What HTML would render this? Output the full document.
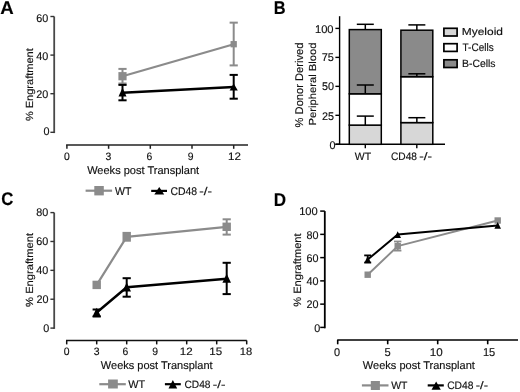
<!DOCTYPE html>
<html><head><meta charset="utf-8"><style>
html,body{margin:0;padding:0;background:#fff;}
svg{display:block;font-family:"Liberation Sans", sans-serif;will-change:transform;}
text{stroke:#111;stroke-width:0.15px;text-rendering:geometricPrecision;}
</style></head><body>
<svg width="520" height="392" viewBox="0 0 520 392">
<rect width="520" height="392" fill="#fff"/>
<text x="0.33" y="13.70" font-size="18.41" textLength="13.47" lengthAdjust="spacingAndGlyphs" fill="#000" font-weight="bold">A</text>
<text x="273.83" y="13.70" font-size="18.41" textLength="11.84" lengthAdjust="spacingAndGlyphs" fill="#000" font-weight="bold">B</text>
<text x="1.13" y="205.10" font-size="18.29" textLength="12.13" lengthAdjust="spacingAndGlyphs" fill="#000" font-weight="bold">C</text>
<text x="273.69" y="205.60" font-size="18.55" textLength="12.33" lengthAdjust="spacingAndGlyphs" fill="#000" font-weight="bold">D</text>
<line x1="54.20" y1="16.50" x2="54.20" y2="133.10" stroke="#484848" stroke-width="1.8" stroke-linecap="butt"/>
<line x1="50.40" y1="16.50" x2="54.20" y2="16.50" stroke="#333" stroke-width="1.4" stroke-linecap="butt"/>
<line x1="50.40" y1="55.10" x2="54.20" y2="55.10" stroke="#333" stroke-width="1.4" stroke-linecap="butt"/>
<line x1="50.40" y1="93.70" x2="54.20" y2="93.70" stroke="#333" stroke-width="1.4" stroke-linecap="butt"/>
<line x1="50.40" y1="132.30" x2="54.20" y2="132.30" stroke="#333" stroke-width="1.4" stroke-linecap="butt"/>
<text x="36.23" y="22.35" font-size="11.14" textLength="12.02" lengthAdjust="spacingAndGlyphs" fill="#111">60</text>
<text x="36.23" y="59.75" font-size="11.14" textLength="12.02" lengthAdjust="spacingAndGlyphs" fill="#111">40</text>
<text x="36.23" y="97.75" font-size="11.14" textLength="12.02" lengthAdjust="spacingAndGlyphs" fill="#111">20</text>
<text x="43.53" y="135.40" font-size="11.14" textLength="6.01" lengthAdjust="spacingAndGlyphs" fill="#111">0</text>
<line x1="66.10" y1="145.00" x2="248.00" y2="145.00" stroke="#222" stroke-width="1.7" stroke-linecap="butt"/>
<line x1="66.90" y1="145.00" x2="66.90" y2="148.80" stroke="#222" stroke-width="1.5" stroke-linecap="butt"/>
<text x="64.02" y="160.10" font-size="10.71" textLength="5.78" lengthAdjust="spacingAndGlyphs" fill="#111">0</text>
<line x1="108.60" y1="145.00" x2="108.60" y2="148.80" stroke="#222" stroke-width="1.5" stroke-linecap="butt"/>
<text x="105.54" y="160.10" font-size="10.71" textLength="5.78" lengthAdjust="spacingAndGlyphs" fill="#111">3</text>
<line x1="150.30" y1="145.00" x2="150.30" y2="148.80" stroke="#222" stroke-width="1.5" stroke-linecap="butt"/>
<text x="146.49" y="160.10" font-size="10.71" textLength="5.78" lengthAdjust="spacingAndGlyphs" fill="#111">6</text>
<line x1="192.00" y1="145.00" x2="192.00" y2="148.80" stroke="#222" stroke-width="1.5" stroke-linecap="butt"/>
<text x="187.72" y="160.10" font-size="10.71" textLength="5.78" lengthAdjust="spacingAndGlyphs" fill="#111">9</text>
<line x1="233.70" y1="145.00" x2="233.70" y2="148.80" stroke="#222" stroke-width="1.5" stroke-linecap="butt"/>
<text x="228.13" y="160.10" font-size="10.86" textLength="12.87" lengthAdjust="spacingAndGlyphs" fill="#111">12</text>
<text x="87.14" y="174.40" font-size="11.17" textLength="112.05" lengthAdjust="spacingAndGlyphs" fill="#111">Weeks post Transplant</text>
<text x="0" y="0" font-size="10.34" textLength="72.89" lengthAdjust="spacingAndGlyphs" fill="#111" transform="translate(32.60,121.09) rotate(-90)">% Engraftment</text>
<line x1="122.50" y1="68.90" x2="122.50" y2="83.50" stroke="#8b8b8b" stroke-width="2" stroke-linecap="butt"/>
<line x1="118.40" y1="68.90" x2="126.60" y2="68.90" stroke="#8b8b8b" stroke-width="2" stroke-linecap="butt"/>
<line x1="118.40" y1="83.50" x2="126.60" y2="83.50" stroke="#8b8b8b" stroke-width="2" stroke-linecap="butt"/>
<line x1="233.70" y1="22.65" x2="233.70" y2="65.40" stroke="#8b8b8b" stroke-width="2" stroke-linecap="butt"/>
<line x1="229.60" y1="22.65" x2="237.80" y2="22.65" stroke="#8b8b8b" stroke-width="2" stroke-linecap="butt"/>
<line x1="229.60" y1="65.40" x2="237.80" y2="65.40" stroke="#8b8b8b" stroke-width="2" stroke-linecap="butt"/>
<polyline points="122.50,76.20 233.70,44.20" fill="none" stroke="#8b8b8b" stroke-width="2.2" stroke-linejoin="round"/>
<rect x="118.40" y="72.10" width="8.20" height="8.20" fill="#8b8b8b"/>
<rect x="230.55" y="41.05" width="6.30" height="6.30" fill="#8b8b8b"/>
<line x1="122.50" y1="84.90" x2="122.50" y2="100.30" stroke="#000" stroke-width="2" stroke-linecap="butt"/>
<line x1="118.40" y1="84.90" x2="126.60" y2="84.90" stroke="#000" stroke-width="2" stroke-linecap="butt"/>
<line x1="118.40" y1="100.30" x2="126.60" y2="100.30" stroke="#000" stroke-width="2" stroke-linecap="butt"/>
<line x1="233.70" y1="74.90" x2="233.70" y2="98.70" stroke="#000" stroke-width="2" stroke-linecap="butt"/>
<line x1="229.60" y1="74.90" x2="237.80" y2="74.90" stroke="#000" stroke-width="2" stroke-linecap="butt"/>
<line x1="229.60" y1="98.70" x2="237.80" y2="98.70" stroke="#000" stroke-width="2" stroke-linecap="butt"/>
<polyline points="122.50,92.70 233.70,87.00" fill="none" stroke="#000" stroke-width="2.45" stroke-linejoin="round"/>
<polygon points="122.50,87.80 126.50,96.40 118.50,96.40" fill="#000"/>
<polygon points="233.70,83.40 237.80,90.40 229.60,90.40" fill="#000"/>
<line x1="85.60" y1="190.70" x2="112.10" y2="190.70" stroke="#8b8b8b" stroke-width="2.2" stroke-linecap="butt"/>
<rect x="94.30" y="186.00" width="9.50" height="9.40" fill="#8b8b8b"/>
<text x="114.95" y="194.50" font-size="11.16" textLength="16.46" lengthAdjust="spacingAndGlyphs" fill="#111">WT</text>
<line x1="151.20" y1="190.90" x2="167.00" y2="190.90" stroke="#000" stroke-width="2.2" stroke-linecap="butt"/>
<polygon points="159.25,187.00 164.20,194.40 154.30,194.40" fill="#000"/>
<text x="170.48" y="194.60" font-size="11.21" textLength="26.66" lengthAdjust="spacingAndGlyphs" fill="#111">CD48</text>
<text x="199.29" y="194.60" font-size="11.21" textLength="12.70" lengthAdjust="spacingAndGlyphs" fill="#111">-/-</text>
<line x1="339.60" y1="16.20" x2="339.60" y2="144.30" stroke="#000" stroke-width="1.4" stroke-linecap="butt"/>
<line x1="335.40" y1="28.40" x2="339.60" y2="28.40" stroke="#000" stroke-width="1.4" stroke-linecap="butt"/>
<line x1="335.40" y1="57.38" x2="339.60" y2="57.38" stroke="#000" stroke-width="1.4" stroke-linecap="butt"/>
<line x1="335.40" y1="86.35" x2="339.60" y2="86.35" stroke="#000" stroke-width="1.4" stroke-linecap="butt"/>
<line x1="335.40" y1="115.33" x2="339.60" y2="115.33" stroke="#000" stroke-width="1.4" stroke-linecap="butt"/>
<line x1="335.40" y1="144.30" x2="339.60" y2="144.30" stroke="#000" stroke-width="1.4" stroke-linecap="butt"/>
<text x="314.91" y="32.70" font-size="11.14" textLength="18.68" lengthAdjust="spacingAndGlyphs" fill="#111">100</text>
<text x="321.77" y="61.10" font-size="11.30" textLength="12.20" lengthAdjust="spacingAndGlyphs" fill="#111">75</text>
<text x="321.93" y="90.20" font-size="11.14" textLength="12.02" lengthAdjust="spacingAndGlyphs" fill="#111">50</text>
<text x="321.93" y="119.50" font-size="11.14" textLength="12.02" lengthAdjust="spacingAndGlyphs" fill="#111">25</text>
<text x="329.43" y="148.90" font-size="11.14" textLength="6.01" lengthAdjust="spacingAndGlyphs" fill="#111">0</text>
<line x1="335.40" y1="144.30" x2="445.00" y2="144.30" stroke="#000" stroke-width="1.5" stroke-linecap="butt"/>
<line x1="365.30" y1="144.30" x2="365.30" y2="148.30" stroke="#000" stroke-width="1.4" stroke-linecap="butt"/>
<line x1="416.80" y1="144.30" x2="416.80" y2="148.30" stroke="#000" stroke-width="1.4" stroke-linecap="butt"/>
<text x="354.75" y="159.80" font-size="10.72" textLength="16.36" lengthAdjust="spacingAndGlyphs" fill="#111">WT</text>
<text x="390.99" y="159.80" font-size="10.86" textLength="26.03" lengthAdjust="spacingAndGlyphs" fill="#111">CD48</text>
<text x="419.29" y="159.80" font-size="10.86" textLength="12.70" lengthAdjust="spacingAndGlyphs" fill="#111">-/-</text>
<rect x="349.30" y="125.10" width="32.00" height="19.20" fill="#d7d7d7" stroke="#000" stroke-width="1.5"/>
<rect x="349.30" y="93.80" width="32.00" height="31.30" fill="#fff" stroke="#000" stroke-width="1.5"/>
<rect x="349.30" y="29.60" width="32.00" height="64.20" fill="#8a8a8a" stroke="#000" stroke-width="1.5"/>
<line x1="365.30" y1="125.10" x2="365.30" y2="116.10" stroke="#000" stroke-width="1.5" stroke-linecap="butt"/>
<line x1="356.80" y1="116.10" x2="373.80" y2="116.10" stroke="#000" stroke-width="1.5" stroke-linecap="butt"/>
<line x1="365.30" y1="93.80" x2="365.30" y2="85.00" stroke="#000" stroke-width="1.5" stroke-linecap="butt"/>
<line x1="356.80" y1="85.00" x2="373.80" y2="85.00" stroke="#000" stroke-width="1.5" stroke-linecap="butt"/>
<line x1="365.30" y1="29.60" x2="365.30" y2="24.30" stroke="#000" stroke-width="1.5" stroke-linecap="butt"/>
<line x1="356.80" y1="24.30" x2="373.80" y2="24.30" stroke="#000" stroke-width="1.5" stroke-linecap="butt"/>
<rect x="400.90" y="122.60" width="31.90" height="21.70" fill="#d7d7d7" stroke="#000" stroke-width="1.5"/>
<rect x="400.90" y="76.70" width="31.90" height="45.90" fill="#fff" stroke="#000" stroke-width="1.5"/>
<rect x="400.90" y="30.20" width="31.90" height="46.50" fill="#8a8a8a" stroke="#000" stroke-width="1.5"/>
<line x1="416.85" y1="122.60" x2="416.85" y2="117.70" stroke="#000" stroke-width="1.5" stroke-linecap="butt"/>
<line x1="408.35" y1="117.70" x2="425.35" y2="117.70" stroke="#000" stroke-width="1.5" stroke-linecap="butt"/>
<line x1="416.85" y1="76.70" x2="416.85" y2="73.80" stroke="#000" stroke-width="1.5" stroke-linecap="butt"/>
<line x1="408.35" y1="73.80" x2="425.35" y2="73.80" stroke="#000" stroke-width="1.5" stroke-linecap="butt"/>
<line x1="416.85" y1="30.20" x2="416.85" y2="24.90" stroke="#000" stroke-width="1.5" stroke-linecap="butt"/>
<line x1="408.35" y1="24.90" x2="425.35" y2="24.90" stroke="#000" stroke-width="1.5" stroke-linecap="butt"/>
<rect x="443.9" y="28.30" width="13.2" height="7.7" fill="#d7d7d7" stroke="#000" stroke-width="1.7"/>
<text x="461.84" y="35.20" font-size="10.21" textLength="41.14" lengthAdjust="spacingAndGlyphs" fill="#111">Myeloid</text>
<rect x="443.9" y="43.70" width="13.2" height="7.7" fill="#fff" stroke="#000" stroke-width="1.7"/>
<text x="462.55" y="50.90" font-size="10.90" textLength="31.11" lengthAdjust="spacingAndGlyphs" fill="#111">T-Cells</text>
<rect x="443.9" y="59.80" width="13.2" height="7.7" fill="#8a8a8a" stroke="#000" stroke-width="1.7"/>
<text x="461.97" y="67.30" font-size="10.48" textLength="33.58" lengthAdjust="spacingAndGlyphs" fill="#111">B-Cells</text>
<text x="0" y="0" font-size="11.17" textLength="84.71" lengthAdjust="spacingAndGlyphs" fill="#111" transform="translate(302.50,127.39) rotate(-90)">% Donor Derived</text>
<text x="0" y="0" font-size="10.21" textLength="82.91" lengthAdjust="spacingAndGlyphs" fill="#111" transform="translate(316.20,125.40) rotate(-90)">Peripheral Blood</text>
<line x1="54.20" y1="212.60" x2="54.20" y2="328.90" stroke="#484848" stroke-width="1.8" stroke-linecap="butt"/>
<line x1="50.40" y1="212.60" x2="54.20" y2="212.60" stroke="#333" stroke-width="1.4" stroke-linecap="butt"/>
<line x1="50.40" y1="241.48" x2="54.20" y2="241.48" stroke="#333" stroke-width="1.4" stroke-linecap="butt"/>
<line x1="50.40" y1="270.35" x2="54.20" y2="270.35" stroke="#333" stroke-width="1.4" stroke-linecap="butt"/>
<line x1="50.40" y1="299.23" x2="54.20" y2="299.23" stroke="#333" stroke-width="1.4" stroke-linecap="butt"/>
<line x1="50.40" y1="328.10" x2="54.20" y2="328.10" stroke="#333" stroke-width="1.4" stroke-linecap="butt"/>
<text x="36.23" y="216.40" font-size="11.14" textLength="12.02" lengthAdjust="spacingAndGlyphs" fill="#111">80</text>
<text x="36.23" y="245.40" font-size="11.14" textLength="12.02" lengthAdjust="spacingAndGlyphs" fill="#111">60</text>
<text x="36.23" y="274.20" font-size="11.14" textLength="12.02" lengthAdjust="spacingAndGlyphs" fill="#111">40</text>
<text x="36.43" y="303.30" font-size="11.14" textLength="12.02" lengthAdjust="spacingAndGlyphs" fill="#111">20</text>
<text x="43.23" y="331.70" font-size="11.14" textLength="6.01" lengthAdjust="spacingAndGlyphs" fill="#111">0</text>
<line x1="66.00" y1="340.50" x2="246.80" y2="340.50" stroke="#111" stroke-width="1.4" stroke-linecap="butt"/>
<line x1="66.70" y1="340.50" x2="66.70" y2="344.40" stroke="#111" stroke-width="1.5" stroke-linecap="butt"/>
<text x="63.82" y="354.90" font-size="10.71" textLength="5.78" lengthAdjust="spacingAndGlyphs" fill="#111">0</text>
<line x1="96.70" y1="340.50" x2="96.70" y2="344.40" stroke="#111" stroke-width="1.5" stroke-linecap="butt"/>
<text x="93.64" y="354.90" font-size="10.71" textLength="5.78" lengthAdjust="spacingAndGlyphs" fill="#111">3</text>
<line x1="126.70" y1="340.50" x2="126.70" y2="344.40" stroke="#111" stroke-width="1.5" stroke-linecap="butt"/>
<text x="122.49" y="354.90" font-size="10.71" textLength="5.78" lengthAdjust="spacingAndGlyphs" fill="#111">6</text>
<line x1="156.70" y1="340.50" x2="156.70" y2="344.40" stroke="#111" stroke-width="1.5" stroke-linecap="butt"/>
<text x="152.32" y="354.90" font-size="10.71" textLength="5.78" lengthAdjust="spacingAndGlyphs" fill="#111">9</text>
<line x1="186.70" y1="340.50" x2="186.70" y2="344.40" stroke="#111" stroke-width="1.5" stroke-linecap="butt"/>
<text x="179.83" y="354.90" font-size="10.71" textLength="12.87" lengthAdjust="spacingAndGlyphs" fill="#111">12</text>
<line x1="216.70" y1="340.50" x2="216.70" y2="344.40" stroke="#111" stroke-width="1.5" stroke-linecap="butt"/>
<text x="209.23" y="354.90" font-size="10.87" textLength="12.86" lengthAdjust="spacingAndGlyphs" fill="#111">15</text>
<line x1="246.70" y1="340.50" x2="246.70" y2="344.40" stroke="#111" stroke-width="1.5" stroke-linecap="butt"/>
<text x="239.76" y="354.90" font-size="10.71" textLength="12.41" lengthAdjust="spacingAndGlyphs" fill="#111">18</text>
<text x="100.84" y="369.40" font-size="11.17" textLength="111.75" lengthAdjust="spacingAndGlyphs" fill="#111">Weeks post Transplant</text>
<text x="0" y="0" font-size="10.34" textLength="74.00" lengthAdjust="spacingAndGlyphs" fill="#111" transform="translate(32.50,306.89) rotate(-90)">% Engraftment</text>
<line x1="226.70" y1="219.30" x2="226.70" y2="234.60" stroke="#8b8b8b" stroke-width="2" stroke-linecap="butt"/>
<line x1="222.60" y1="219.30" x2="230.80" y2="219.30" stroke="#8b8b8b" stroke-width="2" stroke-linecap="butt"/>
<line x1="222.60" y1="234.60" x2="230.80" y2="234.60" stroke="#8b8b8b" stroke-width="2" stroke-linecap="butt"/>
<polyline points="96.70,284.90 126.70,236.80 226.70,226.80" fill="none" stroke="#8b8b8b" stroke-width="2.2" stroke-linejoin="round"/>
<rect x="92.50" y="280.70" width="8.40" height="8.40" fill="#8b8b8b"/>
<rect x="122.50" y="231.90" width="8.40" height="9.80" fill="#8b8b8b"/>
<rect x="222.50" y="222.60" width="8.40" height="8.40" fill="#8b8b8b"/>
<line x1="96.70" y1="309.50" x2="96.70" y2="316.50" stroke="#000" stroke-width="2" stroke-linecap="butt"/>
<line x1="92.60" y1="309.50" x2="100.80" y2="309.50" stroke="#000" stroke-width="2" stroke-linecap="butt"/>
<line x1="92.60" y1="316.50" x2="100.80" y2="316.50" stroke="#000" stroke-width="2" stroke-linecap="butt"/>
<line x1="126.70" y1="278.20" x2="126.70" y2="296.70" stroke="#000" stroke-width="2" stroke-linecap="butt"/>
<line x1="122.60" y1="278.20" x2="130.80" y2="278.20" stroke="#000" stroke-width="2" stroke-linecap="butt"/>
<line x1="122.60" y1="296.70" x2="130.80" y2="296.70" stroke="#000" stroke-width="2" stroke-linecap="butt"/>
<line x1="226.70" y1="262.80" x2="226.70" y2="294.10" stroke="#000" stroke-width="2" stroke-linecap="butt"/>
<line x1="222.60" y1="262.80" x2="230.80" y2="262.80" stroke="#000" stroke-width="2" stroke-linecap="butt"/>
<line x1="222.60" y1="294.10" x2="230.80" y2="294.10" stroke="#000" stroke-width="2" stroke-linecap="butt"/>
<polyline points="96.70,312.50 126.70,287.30 226.70,278.80" fill="none" stroke="#000" stroke-width="2.45" stroke-linejoin="round"/>
<polygon points="96.70,307.80 101.00,316.80 92.40,316.80" fill="#000"/>
<polygon points="126.70,282.50 131.00,291.50 122.40,291.50" fill="#000"/>
<polygon points="226.70,273.80 231.00,282.80 222.40,282.80" fill="#000"/>
<line x1="99.30" y1="384.20" x2="125.80" y2="384.20" stroke="#8b8b8b" stroke-width="2.2" stroke-linecap="butt"/>
<rect x="108.10" y="379.50" width="9.70" height="9.00" fill="#8b8b8b"/>
<text x="128.25" y="387.50" font-size="11.01" textLength="16.87" lengthAdjust="spacingAndGlyphs" fill="#111">WT</text>
<line x1="164.90" y1="384.20" x2="180.80" y2="384.20" stroke="#000" stroke-width="2.2" stroke-linecap="butt"/>
<polygon points="172.85,380.00 177.20,388.50 168.50,388.50" fill="#000"/>
<text x="184.49" y="387.50" font-size="10.71" textLength="26.03" lengthAdjust="spacingAndGlyphs" fill="#111">CD48</text>
<text x="212.79" y="387.50" font-size="10.71" textLength="12.70" lengthAdjust="spacingAndGlyphs" fill="#111">-/-</text>
<line x1="324.80" y1="211.10" x2="324.80" y2="328.30" stroke="#000" stroke-width="1.8" stroke-linecap="butt"/>
<line x1="320.20" y1="211.10" x2="324.80" y2="211.10" stroke="#000" stroke-width="1.5" stroke-linecap="butt"/>
<line x1="320.20" y1="234.36" x2="324.80" y2="234.36" stroke="#000" stroke-width="1.5" stroke-linecap="butt"/>
<line x1="320.20" y1="257.62" x2="324.80" y2="257.62" stroke="#000" stroke-width="1.5" stroke-linecap="butt"/>
<line x1="320.20" y1="280.88" x2="324.80" y2="280.88" stroke="#000" stroke-width="1.5" stroke-linecap="butt"/>
<line x1="320.20" y1="304.14" x2="324.80" y2="304.14" stroke="#000" stroke-width="1.5" stroke-linecap="butt"/>
<line x1="320.20" y1="327.40" x2="324.80" y2="327.40" stroke="#000" stroke-width="1.5" stroke-linecap="butt"/>
<text x="299.16" y="215.10" font-size="11.14" textLength="18.62" lengthAdjust="spacingAndGlyphs" fill="#111">100</text>
<text x="306.43" y="238.56" font-size="11.14" textLength="12.02" lengthAdjust="spacingAndGlyphs" fill="#111">80</text>
<text x="306.43" y="261.82" font-size="11.14" textLength="12.02" lengthAdjust="spacingAndGlyphs" fill="#111">60</text>
<text x="306.43" y="285.08" font-size="11.14" textLength="12.02" lengthAdjust="spacingAndGlyphs" fill="#111">40</text>
<text x="306.43" y="308.34" font-size="11.14" textLength="12.02" lengthAdjust="spacingAndGlyphs" fill="#111">20</text>
<text x="314.23" y="331.50" font-size="11.14" textLength="6.01" lengthAdjust="spacingAndGlyphs" fill="#111">0</text>
<line x1="337.20" y1="340.00" x2="518.00" y2="340.00" stroke="#000" stroke-width="1.6" stroke-linecap="butt"/>
<line x1="337.70" y1="340.00" x2="337.70" y2="344.30" stroke="#000" stroke-width="1.6" stroke-linecap="butt"/>
<text x="333.96" y="355.90" font-size="11.29" textLength="6.09" lengthAdjust="spacingAndGlyphs" fill="#111">0</text>
<line x1="387.70" y1="340.00" x2="387.70" y2="344.30" stroke="#000" stroke-width="1.6" stroke-linecap="butt"/>
<text x="384.52" y="355.90" font-size="11.45" textLength="6.18" lengthAdjust="spacingAndGlyphs" fill="#111">5</text>
<line x1="437.70" y1="340.00" x2="437.70" y2="344.30" stroke="#000" stroke-width="1.6" stroke-linecap="butt"/>
<text x="429.73" y="355.90" font-size="11.29" textLength="12.97" lengthAdjust="spacingAndGlyphs" fill="#111">10</text>
<line x1="487.70" y1="340.00" x2="487.70" y2="344.30" stroke="#000" stroke-width="1.6" stroke-linecap="butt"/>
<text x="482.97" y="355.90" font-size="11.45" textLength="12.30" lengthAdjust="spacingAndGlyphs" fill="#111">15</text>
<text x="362.84" y="369.40" font-size="11.17" textLength="112.05" lengthAdjust="spacingAndGlyphs" fill="#111">Weeks post Transplant</text>
<text x="0" y="0" font-size="10.62" textLength="73.39" lengthAdjust="spacingAndGlyphs" fill="#111" transform="translate(300.90,306.79) rotate(-90)">% Engraftment</text>
<line x1="397.70" y1="241.50" x2="397.70" y2="250.60" stroke="#8b8b8b" stroke-width="1.8" stroke-linecap="butt"/>
<line x1="394.00" y1="241.50" x2="401.40" y2="241.50" stroke="#8b8b8b" stroke-width="1.8" stroke-linecap="butt"/>
<line x1="394.00" y1="250.60" x2="401.40" y2="250.60" stroke="#8b8b8b" stroke-width="1.8" stroke-linecap="butt"/>
<polyline points="367.70,274.70 397.70,246.20 497.70,220.50" fill="none" stroke="#8b8b8b" stroke-width="1.9" stroke-linejoin="round"/>
<rect x="364.50" y="271.50" width="6.40" height="6.40" fill="#8b8b8b"/>
<rect x="394.50" y="243.00" width="6.40" height="6.40" fill="#8b8b8b"/>
<rect x="494.50" y="217.30" width="6.40" height="6.40" fill="#8b8b8b"/>
<line x1="367.70" y1="255.40" x2="367.70" y2="262.60" stroke="#000" stroke-width="1.8" stroke-linecap="butt"/>
<line x1="364.20" y1="255.40" x2="371.20" y2="255.40" stroke="#000" stroke-width="1.8" stroke-linecap="butt"/>
<line x1="364.20" y1="262.60" x2="371.20" y2="262.60" stroke="#000" stroke-width="1.8" stroke-linecap="butt"/>
<polyline points="367.70,259.60 397.70,234.40 497.70,225.40" fill="none" stroke="#000" stroke-width="2.0" stroke-linejoin="round"/>
<polygon points="367.70,256.10 371.00,262.70 364.40,262.70" fill="#000"/>
<polygon points="397.70,231.30 401.00,237.90 394.40,237.90" fill="#000"/>
<polygon points="497.70,222.10 501.00,228.70 494.40,228.70" fill="#000"/>
<line x1="361.90" y1="385.40" x2="388.50" y2="385.40" stroke="#8b8b8b" stroke-width="2.2" stroke-linecap="butt"/>
<rect x="370.80" y="381.00" width="9.10" height="9.00" fill="#8b8b8b"/>
<text x="391.15" y="389.20" font-size="10.72" textLength="16.26" lengthAdjust="spacingAndGlyphs" fill="#111">WT</text>
<line x1="427.70" y1="385.40" x2="443.80" y2="385.40" stroke="#000" stroke-width="2.2" stroke-linecap="butt"/>
<polygon points="436.15,381.50 440.80,389.70 431.50,389.70" fill="#000"/>
<text x="447.18" y="389.40" font-size="10.86" textLength="26.35" lengthAdjust="spacingAndGlyphs" fill="#111">CD48</text>
<text x="475.72" y="389.40" font-size="10.86" textLength="12.25" lengthAdjust="spacingAndGlyphs" fill="#111">-/-</text>
</svg>
</body></html>
